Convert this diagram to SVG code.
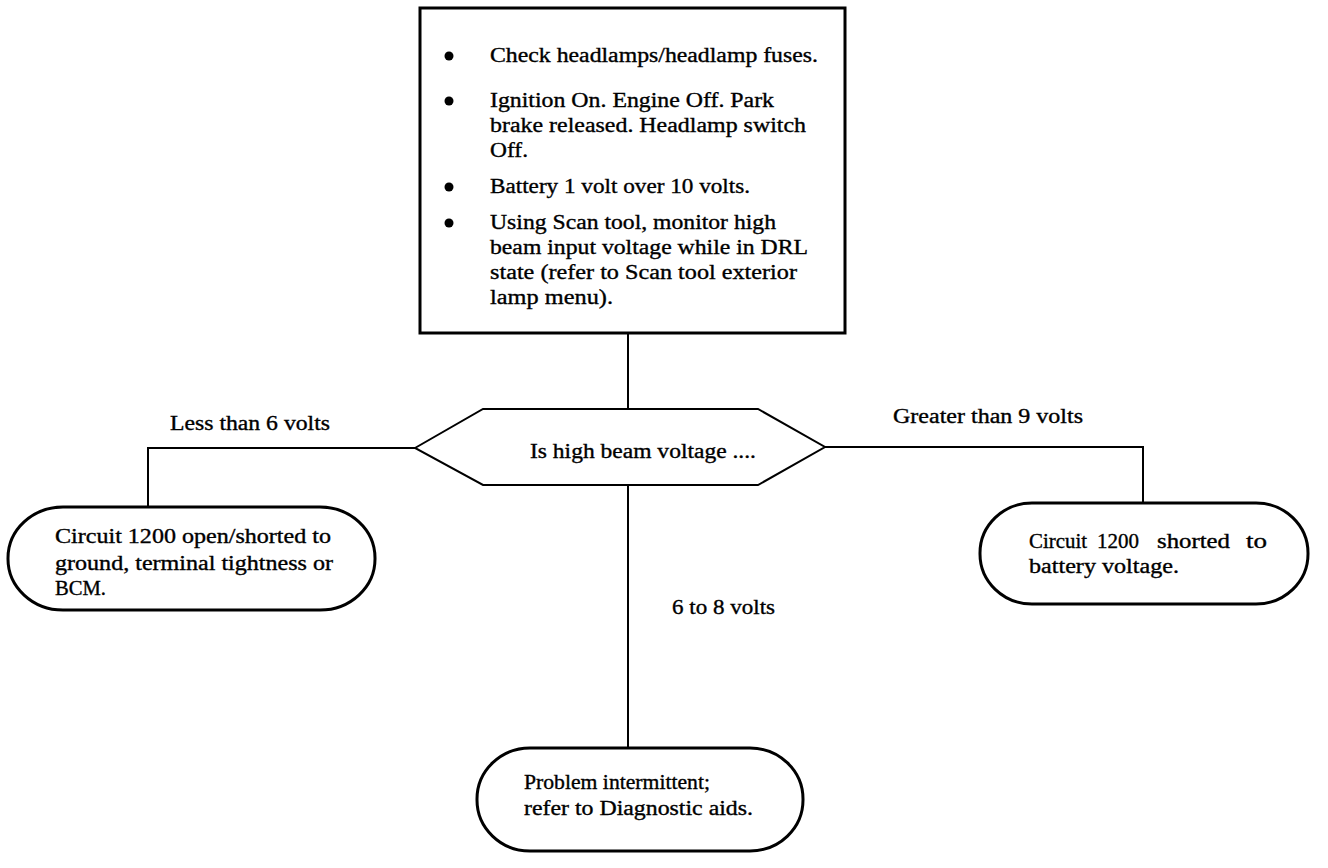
<svg xmlns="http://www.w3.org/2000/svg" width="1328" height="868" viewBox="0 0 1328 868">
<style>
text{font-family:"Liberation Serif","Times New Roman",serif;font-size:20.5px;fill:#000;stroke:#000;stroke-width:0.35}
.box{fill:#fff;stroke:#000;stroke-width:3}
.hex{fill:#fff;stroke:#000;stroke-width:2}
.ln{fill:none;stroke:#000;stroke-width:2}
</style>
<rect width="1328" height="868" fill="#fff"/>
<g id="connectors">
<line class="ln" x1="628" y1="334" x2="628" y2="409"/>
<line class="ln" x1="628" y1="485" x2="628" y2="748"/>
<polyline class="ln" points="415,448 148,448 148,507"/>
<polyline class="ln" points="825,447 1143,447 1143,503"/>
<text x="170" y="430" textLength="160" lengthAdjust="spacingAndGlyphs">Less than 6 volts</text>
<text x="893" y="423" textLength="190" lengthAdjust="spacingAndGlyphs">Greater than 9 volts</text>
<text x="672" y="614" textLength="103" lengthAdjust="spacingAndGlyphs">6 to 8 volts</text>
</g>
<g id="start">
<rect class="box" x="420" y="8" width="425" height="325"/>
<circle cx="449" cy="56" r="4.5"/>
<circle cx="449" cy="101" r="4.5"/>
<circle cx="449" cy="187" r="4.5"/>
<circle cx="449" cy="223" r="4.5"/>
<text x="490" y="62" textLength="328" lengthAdjust="spacingAndGlyphs">Check headlamps/headlamp fuses.</text>
<text x="490" y="107" textLength="284" lengthAdjust="spacingAndGlyphs">Ignition On. Engine Off. Park</text>
<text x="490" y="132" textLength="316" lengthAdjust="spacingAndGlyphs">brake released. Headlamp switch</text>
<text x="490" y="157" textLength="38" lengthAdjust="spacingAndGlyphs">Off.</text>
<text x="490" y="193" textLength="260" lengthAdjust="spacingAndGlyphs">Battery 1 volt over 10 volts.</text>
<text x="490" y="229" textLength="286" lengthAdjust="spacingAndGlyphs">Using Scan tool, monitor high</text>
<text x="490" y="254" textLength="318" lengthAdjust="spacingAndGlyphs">beam input voltage while in DRL</text>
<text x="490" y="279" textLength="307" lengthAdjust="spacingAndGlyphs">state (refer to Scan tool exterior</text>
<text x="490" y="304" textLength="123" lengthAdjust="spacingAndGlyphs">lamp menu).</text>
</g>
<g id="decision">
<polygon class="hex" points="415,448 483,409 758,409 825,447 758,485 483,485"/>
<text x="530" y="458" textLength="226" lengthAdjust="spacingAndGlyphs">Is high beam voltage ....</text>
</g>
<g id="left">
<rect class="box" x="8" y="507" width="367" height="103" rx="55" ry="51"/>
<text x="55" y="543" textLength="276" lengthAdjust="spacingAndGlyphs">Circuit 1200 open/shorted to</text>
<text x="55" y="570" textLength="278" lengthAdjust="spacingAndGlyphs">ground, terminal tightness or</text>
<text x="55" y="595" textLength="51" lengthAdjust="spacingAndGlyphs">BCM.</text>
</g>
<g id="right">
<rect class="box" x="980" y="503" width="328" height="101" rx="52" ry="50"/>
<text x="1029" y="548" textLength="58" lengthAdjust="spacingAndGlyphs">Circuit</text>
<text x="1097" y="548" textLength="42" lengthAdjust="spacingAndGlyphs">1200</text>
<text x="1157" y="548" textLength="73" lengthAdjust="spacingAndGlyphs">shorted</text>
<text x="1246" y="548" textLength="21" lengthAdjust="spacingAndGlyphs">to</text>
<text x="1029" y="573" textLength="150" lengthAdjust="spacingAndGlyphs">battery voltage.</text>
</g>
<g id="bottom">
<rect class="box" x="477" y="748" width="326" height="103" rx="53" ry="51"/>
<text x="524" y="789" textLength="186" lengthAdjust="spacingAndGlyphs">Problem intermittent;</text>
<text x="524" y="815" textLength="229" lengthAdjust="spacingAndGlyphs">refer to Diagnostic aids.</text>
</g>
</svg>
